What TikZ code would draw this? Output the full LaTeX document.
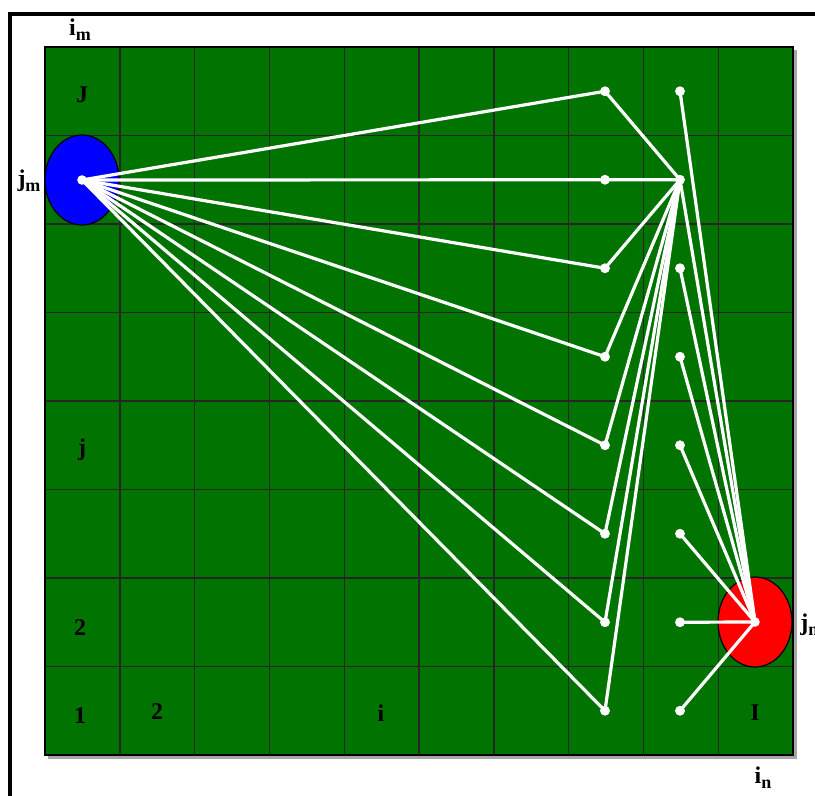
\documentclass[tikz,border=0pt]{standalone}
\usepackage{fontspec}
\setmainfont{Liberation Serif}
\usetikzlibrary{positioning,shapes.geometric}
\definecolor{fieldgreen}{RGB}{0,115,0}
\newcommand{\lowidx}[1]{\raisebox{-0.45ex}{\fontsize{9}{10}\selectfont #1}}

\begin{document}
\begin{tikzpicture}[x=0.5pt,y=-0.5pt,
    lbl/.style={font=\bfseries\fontsize{12}{14}\selectfont, inner sep=0pt},
    blob/.style={ellipse, draw=black, line width=0.6pt, minimum width=37pt, minimum height=45pt, inner sep=0pt},
    link/.style={white, line width=1.6pt},
    dot/.style={circle, fill=white, inner sep=0pt, minimum size=4.8pt},
    cell/.style={black!85, line width=0.7pt}
]
    \useasboundingbox (0,0) rectangle (815,796);
    \clip (0,0) rectangle (815,796);

    % --- outer frame ---
    \draw[line width=2.2pt] (10,14) rectangle (900,900);

    % --- field and grid ---
    \fill[black!35] (48,50) rectangle (797,759);
    \fill[fieldgreen] (45,47) rectangle (793,755);
    \foreach \c in {1,...,9}
        \draw[cell] ({45+\c*74.8},47) -- ({45+\c*74.8},755);
    \foreach \r in {1,...,7}
        \draw[cell] (45,{47+\r*88.5}) -- (793,{47+\r*88.5});
    \draw[line width=1pt] (45,47) rectangle (793,755);

    % --- start and end cells ---
    \node[blob, fill=blue] (src) at (82,180) {};
    \node[blob, fill=red] (dst) at (755,622) {};

    % --- relay points ---
    \foreach \r in {1,...,8} {
        \node[dot] (a\r) at (605,{47+(\r-0.5)*88.5}) {};
        \node[dot] (b\r) at (680,{47+(\r-0.5)*88.5}) {};
    }

    % --- links ---
    \foreach \r in {1,3,4,5,6,7,8} {
        \draw[link] (src.center) -- (a\r.center);
        \draw[link] (b2.center) -- (a\r.center);
    }
    \draw[link] (src.center) -- (b2.center);
    \foreach \r in {1,2,3,4,5,6,7,8}
        \draw[link] (b\r.center) -- (dst.center);
    \foreach \r in {1,...,8} {
        \node[dot] at (a\r) {};
        \node[dot] at (b\r) {};
    }
    \node[dot] at (src.center) {};
    \node[dot] at (dst.center) {};

    % --- labels ---
    \node[lbl] (lim) at (80,30) {i\lowidx{m}};
    \node[lbl] (ljm) at (29,181) {j\lowidx{m}};
    \node[lbl] (lin) at (763,778) {i\lowidx{n}};
    \node[lbl, anchor=west] (ljn) at (800,625) {j\lowidx{n}};
    \node[lbl] (rJ) at (82,95) {J};
    \node[lbl] (rj) at (82,450) {j};
    \node[lbl] (r2) at (80,628) {2};
    \node[lbl] (c1) at (80,716) {1};
    \node[lbl] (c2) at (157,712) {2};
    \node[lbl] (ci) at (381,713) {i};
    \node[lbl] (cI) at (755,713) {I};
\end{tikzpicture}
\end{document}
